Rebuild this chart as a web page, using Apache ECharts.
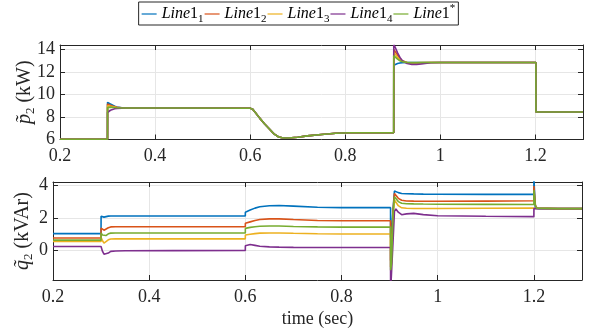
<!DOCTYPE html>
<html><head><meta charset="utf-8">
<script src="https://cdn.jsdelivr.net/npm/echarts@6/dist/echarts.min.js"></script>
<style>html,body{margin:0;padding:0;background:#fff}#c{width:597px;height:332px}</style>
</head><body><div id="c"></div>
<script>
// ---- data ----
const seriesNames = ['Line1_1', 'Line1_2', 'Line1_3', 'Line1_4', 'Line1*'];
const xTicks = [0.2, 0.4, 0.6, 0.8, 1, 1.2];
const pTicks = [6, 8, 10, 12, 14];
const qTicks = [0, 2, 4];

// top plot: p2 (kW)
const tP = [0.2, 0.2999, 0.3, 0.303, 0.306, 0.31, 0.315, 0.32, 0.33, 0.34, 0.36, 0.45, 0.6, 0.605, 0.61, 0.62, 0.63, 0.64, 0.65, 0.66, 0.67, 0.68, 0.7, 0.72, 0.75, 0.78, 0.81, 0.85, 0.9019, 0.902, 0.905, 0.91, 0.915, 0.92, 0.93, 0.94, 0.95, 0.96, 0.98, 1.0, 1.1, 1.2009, 1.201, 1.25, 1.3];
const p1 = [6.02, 6.02, 9.3, 9.25, 9.15, 9.05, 8.95, 8.88, 8.82, 8.8, 8.8, 8.8, 8.78, 8.7, 8.45, 7.9, 7.4, 6.95, 6.5, 6.22, 6.14, 6.13, 6.2, 6.32, 6.45, 6.55, 6.6, 6.6, 6.6, 12.6, 12.65, 12.75, 12.8, 12.83, 12.85, 12.85, 12.85, 12.85, 12.85, 12.85, 12.85, 12.85, 8.45, 8.45, 8.45];
const p2 = [6.02, 6.02, 9.15, 9.12, 9.05, 8.98, 8.92, 8.87, 8.82, 8.8, 8.8, 8.8, 8.78, 8.7, 8.45, 7.9, 7.4, 6.95, 6.5, 6.22, 6.14, 6.13, 6.2, 6.32, 6.45, 6.55, 6.6, 6.6, 6.6, 14.0, 13.85, 13.5, 13.2, 13.0, 12.85, 12.8, 12.8, 12.82, 12.85, 12.85, 12.85, 12.85, 8.45, 8.45, 8.45];
const p3 = [6.02, 6.02, 9.0, 9.0, 8.96, 8.92, 8.88, 8.85, 8.81, 8.8, 8.8, 8.8, 8.78, 8.7, 8.45, 7.9, 7.4, 6.95, 6.5, 6.22, 6.14, 6.13, 6.2, 6.32, 6.45, 6.55, 6.6, 6.6, 6.6, 13.75, 13.6, 13.3, 13.1, 12.97, 12.85, 12.82, 12.82, 12.83, 12.85, 12.85, 12.85, 12.85, 8.45, 8.45, 8.45];
const p4 = [6.02, 6.02, 8.4, 8.5, 8.6, 8.68, 8.73, 8.76, 8.79, 8.8, 8.8, 8.8, 8.78, 8.7, 8.45, 7.9, 7.4, 6.95, 6.5, 6.22, 6.14, 6.13, 6.2, 6.32, 6.45, 6.55, 6.6, 6.6, 6.6, 14.4, 14.2, 13.7, 13.3, 13.0, 12.75, 12.68, 12.68, 12.72, 12.82, 12.85, 12.85, 12.85, 8.45, 8.45, 8.45];
const pS = [6.02, 6.02, 8.85, 8.88, 8.88, 8.86, 8.84, 8.82, 8.8, 8.8, 8.8, 8.8, 8.78, 8.7, 8.45, 7.9, 7.4, 6.95, 6.5, 6.22, 6.14, 6.13, 6.2, 6.32, 6.45, 6.55, 6.6, 6.6, 6.6, 13.45, 13.35, 13.15, 13.0, 12.92, 12.85, 12.83, 12.83, 12.84, 12.85, 12.85, 12.85, 12.85, 8.45, 8.45, 8.45];

// bottom plot: q2 (kVAr)
const tQ = [0.2, 0.2999, 0.3, 0.303, 0.306, 0.31, 0.315, 0.32, 0.33, 0.35, 0.45, 0.5999, 0.6, 0.61, 0.62, 0.63, 0.65, 0.67, 0.7, 0.75, 0.8, 0.9019, 0.902, 0.904, 0.907, 0.91, 0.913, 0.918, 0.925, 0.935, 0.95, 0.97, 1.0, 1.1, 1.1999, 1.2, 1.201, 1.203, 1.206, 1.21, 1.25, 1.3];
const q1 = [1.04, 1.04, 2.1, 2.22, 2.05, 2.08, 2.11, 2.12, 2.12, 2.12, 2.12, 2.12, 2.35, 2.48, 2.6, 2.68, 2.75, 2.76, 2.72, 2.65, 2.63, 2.63, 0.8, 1.0, 2.5, 3.65, 3.65, 3.55, 3.5, 3.48, 3.47, 3.46, 3.45, 3.44, 3.44, 4.4, 4.4, 2.6, 2.57, 2.57, 2.57, 2.57];
const q2 = [0.77, 0.77, 1.38, 1.3, 1.25, 1.3, 1.4, 1.45, 1.46, 1.46, 1.46, 1.46, 1.68, 1.76, 1.84, 1.9, 1.94, 1.94, 1.9, 1.84, 1.83, 1.83, -0.6, -0.3, 2.4, 3.5, 3.45, 3.2, 3.08, 3.04, 3.03, 3.02, 3.02, 3.03, 3.05, 3.95, 3.95, 2.8, 2.6, 2.57, 2.57, 2.57];
const q3 = [0.56, 0.56, 0.8, 0.6, 0.46, 0.52, 0.66, 0.71, 0.72, 0.72, 0.72, 0.72, 0.95, 1.0, 1.04, 1.07, 1.08, 1.08, 1.06, 1.03, 1.02, 1.02, -1.0, -0.7, 2.0, 3.1, 3.05, 2.75, 2.62, 2.59, 2.58, 2.58, 2.58, 2.59, 2.6, 2.7, 2.7, 2.6, 2.58, 2.57, 2.57, 2.57];
const q4 = [0.25, 0.25, 0.2, -0.05, -0.22, -0.27, -0.15, -0.05, -0.02, -0.01, 0.0, 0.01, 0.3, 0.37, 0.32, 0.27, 0.23, 0.21, 0.2, 0.19, 0.19, 0.19, -2.5, -2.5, 0.5, 2.4, 2.55, 2.35, 2.2, 2.25, 2.28, 2.2, 2.13, 2.1, 2.08, 2.57, 2.57, 2.57, 2.57, 2.57, 2.57, 2.57];
const qS = [0.64, 0.64, 1.08, 0.95, 0.87, 0.92, 1.03, 1.07, 1.08, 1.08, 1.08, 1.08, 1.36, 1.42, 1.46, 1.49, 1.51, 1.51, 1.48, 1.45, 1.44, 1.44, -1.2, -0.8, 2.2, 3.3, 3.25, 3.0, 2.9, 2.87, 2.86, 2.85, 2.84, 2.83, 2.82, 3.7, 3.7, 2.75, 2.6, 2.57, 2.57, 2.57];

// ---- chart ----
const colors = ['#0072BD', '#D95319', '#EDB120', '#7E2F8E', '#77AC30'];
const FONT = 'Liberation Serif';
const AX = '#262626';
const pSets = [p1, p2, p3, p4, pS];
const qSets = [q1, q2, q3, q4, qS];
const zip = (t, v) => t.map((x, i) => [x, v[i]]);

const tickLabel = { color: '#262626', fontFamily: FONT, fontSize: 18 };

function xAx(gi, pos, labels, extra) {
  return Object.assign({
    type: 'value', gridIndex: gi, position: pos, min: 0.2, max: 1.3,
    axisLine: { show: true, onZero: false, lineStyle: { color: AX, width: 1 } },
    axisTick: { show: true, inside: true, length: 5, customValues: xTicks, lineStyle: { color: AX } },
    axisLabel: Object.assign({ show: labels, customValues: xTicks, margin: 8 }, tickLabel),
    splitLine: { show: pos === 'bottom', lineStyle: { color: '#e6e6e6', width: 1 } }
  }, extra || {});
}
function yAx(gi, pos, labels, mn, mx, ticks, extra) {
  return Object.assign({
    type: 'value', gridIndex: gi, position: pos, min: mn, max: mx,
    axisLine: { show: true, onZero: false, lineStyle: { color: AX, width: 1 } },
    axisTick: { show: true, inside: true, length: 5, customValues: ticks, lineStyle: { color: AX } },
    axisLabel: Object.assign({ show: labels, customValues: ticks, margin: 5 }, tickLabel),
    splitLine: { show: pos === 'left', lineStyle: { color: '#e6e6e6', width: 1 } }
  }, extra || {});
}

const nameRich = {
  i: { fontFamily: FONT, fontStyle: 'italic', fontSize: 20, color: '#262626', lineHeight: 24 },
  s: { fontFamily: FONT, fontStyle: 'normal', fontSize: 13, color: '#262626', verticalAlign: 'bottom', lineHeight: 25 },
  n: { fontFamily: FONT, fontStyle: 'normal', fontSize: 20, color: '#262626', lineHeight: 24 }
};
const legRich = {
  i: { fontFamily: FONT, fontStyle: 'italic', fontSize: 16, color: '#000', lineHeight: 20 },
  n: { fontFamily: FONT, fontStyle: 'normal', fontSize: 16, color: '#000', lineHeight: 20 },
  s: { fontFamily: FONT, fontStyle: 'normal', fontSize: 11, color: '#000', verticalAlign: 'bottom', lineHeight: 22 },
  u: { fontFamily: FONT, fontStyle: 'normal', fontSize: 11, color: '#000', verticalAlign: 'top', lineHeight: 22 }
};

const series = [];
seriesNames.forEach((nm, k) => {
  series.push({ name: nm, type: 'line', xAxisIndex: 0, yAxisIndex: 0, data: zip(tP, pSets[k]), symbol: 'none', color: colors[k], lineStyle: { width: 1.6, color: colors[k] }, animation: false, clip: true });
});
seriesNames.forEach((nm, k) => {
  series.push({ name: nm, type: 'line', xAxisIndex: 2, yAxisIndex: 2, data: zip(tQ, qSets[k]), symbol: 'none', color: colors[k], lineStyle: { width: 1.6, color: colors[k] }, animation: false, clip: true });
});

const chart = echarts.init(document.getElementById('c'), null, { renderer: 'canvas' });
chart.setOption({
  backgroundColor: '#fff',
  animation: false,
  color: colors,
  textStyle: { fontFamily: FONT },
  legend: {
    top: 2, left: 'center', data: seriesNames,
    itemWidth: 15, itemHeight: 10, itemGap: 1,
    borderColor: '#262626', borderWidth: 1, padding: [1, 3, 0, 3],
    icon: 'path://M0,4.4 L15,4.4 L15,5.6 L0,5.6 Z',
    formatter: function (name) {
      if (name === 'Line1*') return '{i|Line}{n|1}{u|*}';
      return '{i|Line}{n|1}{s|' + name.slice(-1) + '}';
    },
    textStyle: { rich: legRich }
  },
  grid: [
    { left: 60, right: 14, top: 45, height: 94.5 },
    { left: 53, right: 15, top: 182, height: 98 }
  ],
  xAxis: [
    xAx(0, 'bottom', true),
    xAx(0, 'top', false),
    xAx(1, 'bottom', true, { name: 'time (sec)', nameLocation: 'middle', nameGap: 30, nameTextStyle: { fontFamily: FONT, fontSize: 18, color: '#262626' } }),
    xAx(1, 'top', false)
  ],
  yAxis: [
    yAx(0, 'left', true, 6, 14.4, pTicks, { name: '{i|p̃}{s|2}{n| (kW)}', nameLocation: 'middle', nameRotate: 90, nameGap: 23, nameMoveOverlap: false, nameTextStyle: { rich: nameRich } }),
    yAx(0, 'right', false, 6, 14.4, pTicks),
    yAx(1, 'left', true, -1.8, 4.2, qTicks, { name: '{i|q̃}{s|2}{n| (kVAr)}', nameLocation: 'middle', nameRotate: 90, nameGap: 18, nameMoveOverlap: false, nameTextStyle: { rich: nameRich } }),
    yAx(1, 'right', false, -1.8, 4.2, qTicks)
  ],
  series: series
});
</script></body></html>
